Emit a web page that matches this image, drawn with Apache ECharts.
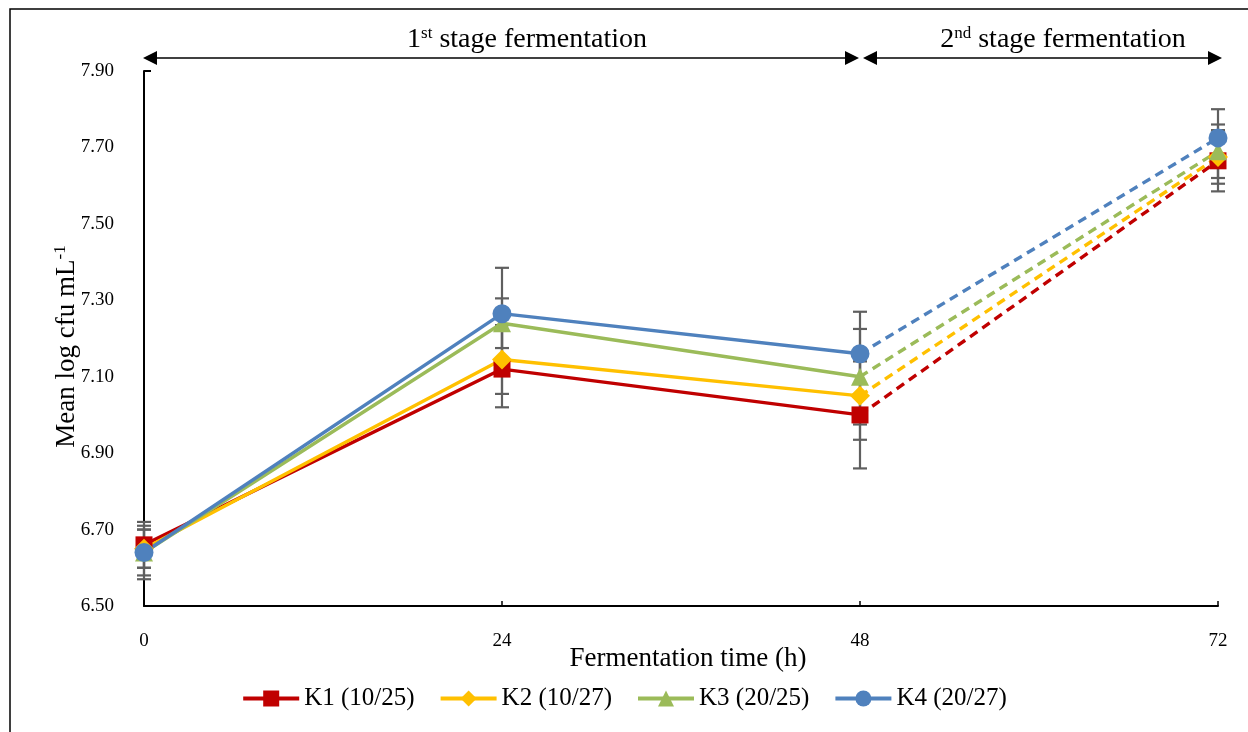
<!DOCTYPE html>
<html>
<head>
<meta charset="utf-8">
<script src="https://cdn.jsdelivr.net/npm/echarts@6/dist/echarts.min.js"></script>
<style>
  html, body { margin: 0; padding: 0; background: #fff; }
  #chart { width: 1248px; height: 732px; }
</style>
</head>
<body>
<div id="chart"></div>
<script>
// Fermentation time points (h)
const hours = [0, 24, 48, 72];
const yTicks = [6.5, 6.7, 6.9, 7.1, 7.3, 7.5, 7.7, 7.9];

// Treatment names
const names = ['K1 (10/25)', 'K2 (10/27)', 'K3 (20/25)', 'K4 (20/27)'];

// Mean log cfu/mL for each treatment
const k1 = [6.66, 7.12, 7.00, 7.665];
const k2 = [6.65, 7.145, 7.05, 7.675];
const k3 = [6.64, 7.24, 7.10, 7.69];
const k4 = [6.64, 7.265, 7.16, 7.725];

// Standard deviations
const k1Err = [0.06, 0.10, 0.14, 0.08];
const k2Err = [0.05, 0.09, 0.115, 0.07];
const k3Err = [0.06, 0.065, 0.125, 0.07];
const k4Err = [0.07, 0.12, 0.11, 0.075];

const means = [k1, k2, k3, k4];
const errs = [k1Err, k2Err, k3Err, k4Err];
const colors = ['#C00000', '#FFC000', '#9BBB59', '#4F81BD'];
const symbols = ['rect', 'diamond', 'triangle', 'circle'];
const symbolSizes = [17, 20, 18, 19];

const FONT = '"Liberation Serif", "Times New Roman", serif';

const chart = echarts.init(document.getElementById('chart'));

const series = [];

// error bars, drawn beneath the lines
means.forEach((m, i) => {
  const data = hours.map((h, j) => [h, m[j] - errs[i][j], m[j] + errs[i][j]]);
  series.push({
    type: 'custom',
    name: 'err' + i,
    z: 1,
    silent: true,
    renderItem: function (params, api) {
      const x = api.value(0);
      const lo = api.coord([x, api.value(1)]);
      const hi = api.coord([x, api.value(2)]);
      const w = 7;
      const st = { stroke: '#5F5F5F', lineWidth: 2.2 };
      return {
        type: 'group',
        children: [
          { type: 'line', shape: { x1: lo[0], y1: lo[1], x2: hi[0], y2: hi[1] }, style: st },
          { type: 'line', shape: { x1: lo[0] - w, y1: lo[1], x2: lo[0] + w, y2: lo[1] }, style: st },
          { type: 'line', shape: { x1: hi[0] - w, y1: hi[1], x2: hi[0] + w, y2: hi[1] }, style: st }
        ]
      };
    },
    encode: { x: 0, y: [1, 2] },
    data: data
  });
});

// solid 1st-stage lines with markers
means.forEach((m, i) => {
  series.push({
    type: 'line',
    name: names[i],
    z: 3,
    data: hours.slice(0, 3).map((h, j) => [h, m[j]]),
    symbol: symbols[i],
    symbolSize: symbolSizes[i],
    lineStyle: { color: colors[i], width: 3.4 },
    itemStyle: { color: colors[i] },
    emphasis: { disabled: true }
  });
});

// dashed 2nd-stage segments (48 h -> 72 h) with the 72 h marker
means.forEach((m, i) => {
  series.push({
    type: 'line',
    name: names[i] + ' stage 2',
    z: 2,
    data: [[hours[2], m[2]], [hours[3], m[3]]],
    symbol: symbols[i],
    symbolSize: (v, p) => (p.dataIndex === 0 ? 0 : symbolSizes[i]),
    lineStyle: { color: colors[i], width: 3.4, type: [9, 6] },
    itemStyle: { color: colors[i] },
    emphasis: { disabled: true }
  });
});

chart.setOption({
  animation: false,
  grid: { left: 144, right: 30, top: 71, bottom: 126 },
  xAxis: {
    type: 'value',
    min: 0, max: 72, interval: 24,
    name: 'Fermentation time (h)',
    nameLocation: 'middle',
    nameGap: 39,
    nameMoveOverlap: false,
    nameTextStyle: { fontFamily: FONT, fontSize: 27, color: '#000', padding: [0, 0, 0, 14] },
    axisLine: { lineStyle: { color: '#000', width: 2 } },
    axisTick: { show: true, inside: true, length: 5, lineStyle: { color: '#000', width: 1.5 } },
    axisLabel: { fontFamily: FONT, fontSize: 19, color: '#000', margin: 26 },
    splitLine: { show: false }
  },
  yAxis: {
    type: 'value',
    min: yTicks[0], max: yTicks[yTicks.length - 1], interval: 0.2,
    name: 'Mean log cfu mL{sup|-1}',
    nameLocation: 'middle',
    nameRotate: 90,
    nameGap: 62,
    nameMoveOverlap: false,
    nameTextStyle: {
      fontFamily: FONT, fontSize: 27, color: '#000', padding: [0, 16, 0, 0],
      rich: { sup: { fontFamily: FONT, fontSize: 17, color: '#000', verticalAlign: 'top', padding: [0, 0, 13, 0] } }
    },
    axisLine: { show: true, lineStyle: { color: '#000', width: 2 } },
    axisTick: { show: false },
    axisLabel: { fontFamily: FONT, fontSize: 19, color: '#000', margin: 30, formatter: v => v.toFixed(2) },
    splitLine: { show: false }
  },
  legend: {
    data: names,
    bottom: 16,
    left: 'center',
    itemWidth: 56,
    itemHeight: 20,
    itemGap: 24,
    lineStyle: { width: 4 },
    textStyle: { fontFamily: FONT, fontSize: 25, color: '#000' },
    selectedMode: false
  },
  series: series
});

// stage annotations above the plot
const y0 = chart.convertToPixel({ gridIndex: 0 }, [0, 7.9])[1];
const arrowY = y0 - 13;
const xp = hours.map(h => chart.convertToPixel({ gridIndex: 0 }, [h, 7.9])[0]);

function arrow(x1, x2) {
  const hl = 14, hw = 7;
  return [
    { type: 'line', shape: { x1: x1 + 4, y1: arrowY, x2: x2 - 4, y2: arrowY }, style: { stroke: '#000', lineWidth: 1.5 } },
    { type: 'polygon', shape: { points: [[x1, arrowY], [x1 + hl, arrowY - hw], [x1 + hl, arrowY + hw]] }, style: { fill: '#000' } },
    { type: 'polygon', shape: { points: [[x2, arrowY], [x2 - hl, arrowY - hw], [x2 - hl, arrowY + hw]] }, style: { fill: '#000' } }
  ];
}

const labelRich = {
  sup: { fontFamily: FONT, fontSize: 17, fill: '#000', verticalAlign: 'top', padding: [0, 0, 12, 0] }
};

function stageLabel(text, cx) {
  return {
    type: 'text',
    x: cx,
    y: arrowY - 18,
    style: {
      text: text,
      font: '28px ' + FONT,
      fill: '#000',
      align: 'center',
      verticalAlign: 'middle',
      rich: labelRich
    }
  };
}

chart.setOption({
  graphic: [
    // outer frame
    { type: 'rect', shape: { x: 10, y: 9, width: 1260, height: 740 }, style: { fill: 'none', stroke: '#000', lineWidth: 1.5 }, silent: true },
    // top tick of the value axis
    { type: 'line', shape: { x1: xp[0], y1: y0, x2: xp[0] + 7, y2: y0 }, style: { stroke: '#000', lineWidth: 2 } },
    ...arrow(xp[0] - 1, xp[2] - 1),
    ...arrow(xp[2] + 3, xp[3] + 4),
    stageLabel('1{sup|st} stage fermentation', (xp[0] + xp[2]) / 2 + 25),
    stageLabel('2{sup|nd} stage fermentation', (xp[2] + xp[3]) / 2 + 24)
  ]
});
</script>
</body>
</html>
